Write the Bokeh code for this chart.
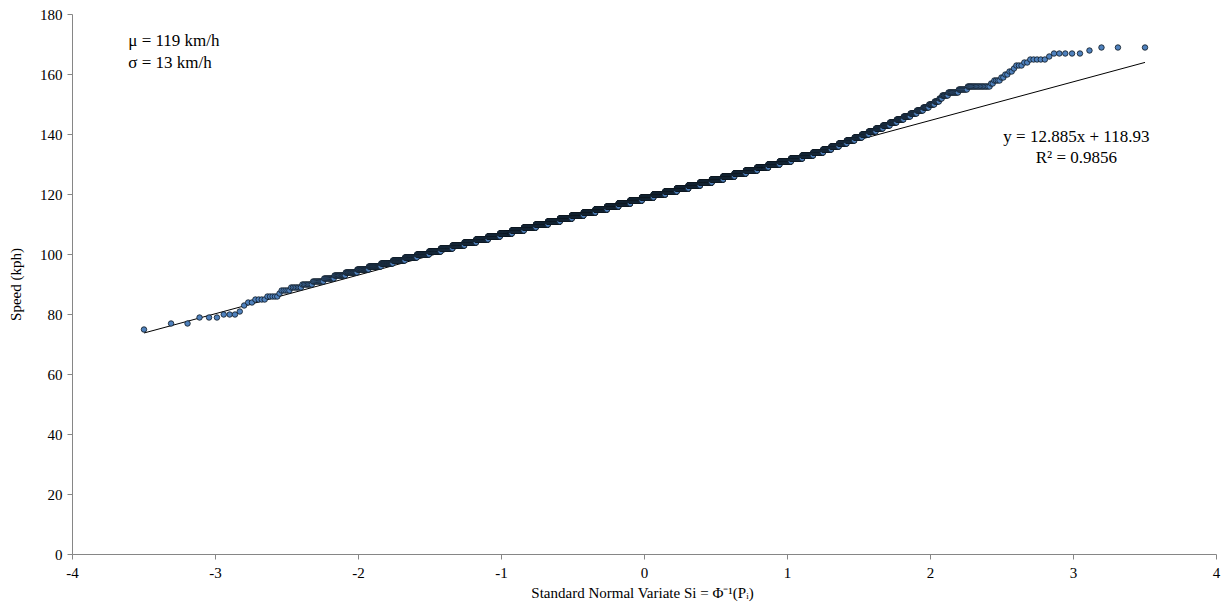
from statistics import NormalDist

import numpy as np
from bokeh.embed import file_html
from bokeh.models import FixedTicker, Label, Range1d
from bokeh.plotting import figure
from bokeh.resources import INLINE

# Observed spot speeds (km/h) and how many vehicles were recorded at each
speeds = list(range(75, 170))
counts = [
    1, 0, 2, 0, 3, 3, 1, 0, 1, 2,            # 75-84
    4, 5, 1, 5, 7, 8, 10, 11, 14, 17,        # 85-94
    20, 25, 28, 33, 38, 44, 48, 54, 61, 67,  # 95-104
    75, 82, 90, 97, 104, 112, 117, 124, 126, 131,   # 105-114
    133, 135, 139, 139, 140, 139, 137, 135, 131, 128,  # 115-124
    120, 114, 109, 102, 96, 90, 84, 77, 68, 57,     # 125-134
    43, 38, 36, 33, 29, 25, 24, 22, 20, 18,  # 135-144
    17, 15, 13, 12, 10, 9, 7, 4, 8, 12,      # 145-154
    9, 18, 2, 4, 2, 2, 2, 1, 3, 2,           # 155-164
    5, 1, 5, 1, 3,                           # 165-169
]

# Least-squares trend line and summary statistics
fit_slope = 12.885
fit_intercept = 118.93
fit_r2 = 0.9856
mean_speed = 119
sd_speed = 13

x_ticks = [-4, -3, -2, -1, 0, 1, 2, 3, 4]
y_ticks = [0, 20, 40, 60, 80, 100, 120, 140, 160, 180]

# Ordered sample against standard normal variates Si = inverse-Phi(i / (n + 1))
sample = np.repeat(np.array(speeds, dtype=float), counts)
n = len(sample)
nd = NormalDist()
variate = np.array([nd.inv_cdf(i / (n + 1)) for i in range(1, n + 1)])

line_x = np.array([variate.min(), variate.max()])
line_y = fit_slope * line_x + fit_intercept

SERIF = "Liberation Serif"
AXIS_GREY = "#868686"

p = figure(
    width=1228,
    height=614,
    x_range=Range1d(-4, 4),
    y_range=Range1d(0, 180),
    output_backend="svg",
    toolbar_location=None,
    min_border_left=72,
    min_border_right=12,
    min_border_top=14,
    min_border_bottom=60,
)
p.outline_line_color = None
p.background_fill_color = "white"
p.border_fill_color = "white"
p.xgrid.visible = False
p.ygrid.visible = False

for ax in (p.xaxis[0], p.yaxis[0]):
    ax.axis_line_color = AXIS_GREY
    ax.axis_line_width = 1
    ax.major_tick_line_color = AXIS_GREY
    ax.major_tick_out = 5
    ax.major_tick_in = 0
    ax.minor_tick_line_color = None
    ax.major_label_text_font = SERIF
    ax.major_label_text_font_size = "15px"
    ax.major_label_text_color = "black"
    ax.axis_label_text_font = SERIF
    ax.axis_label_text_font_size = "15px"
    ax.axis_label_text_font_style = "normal"
    ax.axis_label_text_color = "black"

p.xaxis.ticker = FixedTicker(ticks=x_ticks)
p.yaxis.ticker = FixedTicker(ticks=y_ticks)
# plain hyphen for negative tick values
p.xaxis.major_label_overrides = {t: str(t) for t in x_ticks}
p.xaxis.major_label_standoff = 8
p.yaxis.major_label_standoff = 5
p.xaxis.axis_label = "Standard  Normal Variate Si = \u03a6\u207b\u00b9(P\u1d62)"
p.yaxis.axis_label = "Speed (kph)"
p.xaxis.axis_label_standoff = 4
p.yaxis.axis_label_standoff = 13

# Trend line underneath the observations
p.line(line_x, line_y, line_color="black", line_width=1)

p.scatter(
    variate,
    sample,
    size=5.5,
    fill_color="#4F81BD",
    line_color="#0d1620",
    line_width=0.8,
)

label_style = dict(
    text_font=SERIF,
    text_font_size="17px",
    text_color="black",
    text_baseline="middle",
)
p.add_layout(Label(x=-3.61, y=171.3, text=f"\u03bc = {mean_speed} km/h", text_align="left", **label_style))
p.add_layout(Label(x=-3.61, y=164.0, text=f"\u03c3 = {sd_speed} km/h", text_align="left", **label_style))
p.add_layout(Label(x=3.02, y=139.4, text=f"y = {fit_slope}x + {fit_intercept}", text_align="center", **label_style))
p.add_layout(Label(x=3.02, y=132.4, text=f"R\u00b2 = {fit_r2}", text_align="center", **label_style))

open("out.html", "w").write(file_html(p, INLINE))
